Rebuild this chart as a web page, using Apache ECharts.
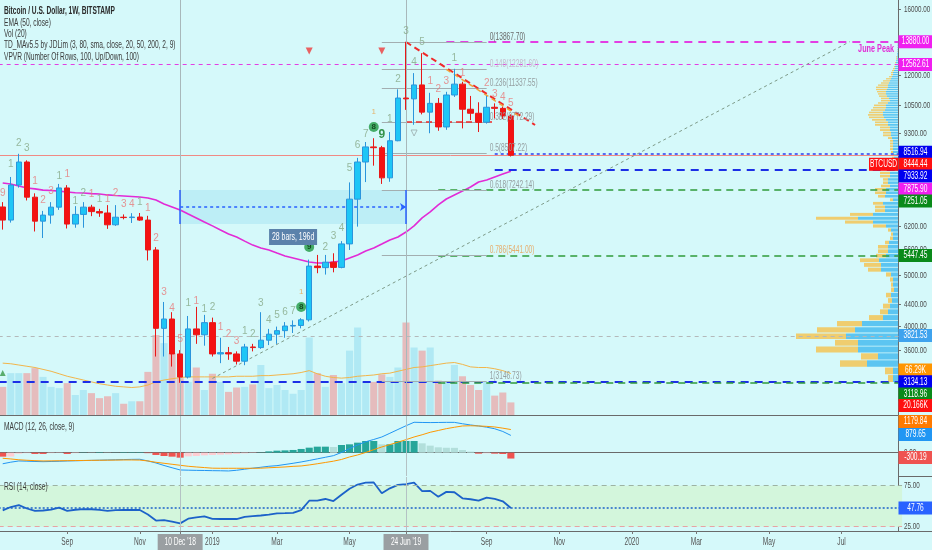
<!DOCTYPE html>
<html>
<head>
<meta charset="utf-8">
<script src="https://cdn.jsdelivr.net/npm/echarts@6/dist/echarts.min.js"></script>
<style>
html, body { margin: 0; padding: 0; background: #d5f9fa; }
#chart { width: 932px; height: 550px; }
</style>
</head>
<body>
<div id="chart"></div>
<script>
// weekly BTCUSD (Bitstamp), first bar = week of 9 Jul 2018
var candles = [ // [open, close, low, high]
  [6735, 6360, 6100, 6880], [6360, 7415, 6290, 7680], [7415, 8200, 7330, 8500], [8200, 7030, 6930, 8260],
  [7030, 6330, 6050, 7150], [6330, 6500, 5880, 6620], [6500, 6730, 6260, 6880], [6730, 7320, 6650, 7450],
  [7320, 6250, 6130, 7410], [6250, 6520, 6150, 6760], [6520, 6730, 6150, 6880], [6730, 6600, 6470, 6800],
  [6600, 6560, 6450, 6680], [6560, 6230, 6120, 6790], [6230, 6440, 6200, 6790], [6440, 6430, 6380, 6520],
  [6430, 6445, 6280, 6555], [6445, 6360, 6340, 6560], [6360, 5580, 5330, 6480], [5580, 3960, 3500, 5650],
  [3960, 4125, 3500, 4444], [4125, 3540, 3350, 4250], [3540, 3200, 3120, 3600], [3200, 3950, 3180, 4180],
  [3950, 3850, 3700, 4350], [3850, 4060, 3670, 4200], [4060, 3540, 3500, 4150], [3540, 3560, 3400, 3800],
  [3560, 3540, 3450, 3650], [3540, 3430, 3380, 3580], [3430, 3650, 3370, 3700], [3650, 3640, 3580, 3700],
  [3640, 3760, 3620, 4250], [3760, 3860, 3680, 3950], [3860, 3920, 3700, 3990], [3920, 4000, 3800, 4070],
  [4000, 4010, 3880, 4100], [4010, 4110, 3960, 4140], [4110, 5200, 4080, 5350], [5200, 5165, 5040, 5460],
  [5165, 5290, 5010, 5460], [5290, 5170, 5060, 5500], [5170, 5730, 5150, 5800], [5730, 6970, 5580, 7500],
  [6970, 8200, 6180, 8350], [8200, 8760, 7510, 8950], [8760, 8730, 8070, 9100], [8730, 7650, 7450, 8800],
  [7650, 9000, 7520, 9350], [9000, 10850, 8980, 11270], [10850, 10810, 10300, 13880], [10810, 11490, 9650, 12100],
  [11490, 10200, 10100, 13200], [10200, 10600, 9300, 11100], [10600, 9560, 9400, 10850], [9560, 10995, 9440, 11150],
  [10995, 11530, 10900, 12330], [11530, 10330, 9500, 11650], [10330, 10150, 9850, 10950], [10150, 9760, 9350, 10650],
  [9760, 10420, 9700, 10950], [10420, 10370, 9920, 10600], [10370, 10030, 9900, 10450], [10030, 8444.44, 8400, 10100]
];
var ema50 = [7480, 7450, 7380, 7320, 7290, 7250, 7240, 7220, 7190, 7170, 7160, 7140, 7130, 7100, 7080, 7065,
  7050, 7035, 7005, 6945, 6825, 6735, 6646, 6530, 6420, 6305, 6200, 6090, 5985, 5906, 5800, 5700,
  5628, 5580, 5505, 5435, 5387, 5340, 5293, 5270, 5270, 5293, 5316, 5387, 5460, 5555, 5628, 5727,
  5830, 5906, 6035, 6200, 6420, 6590, 6795, 6974, 7097, 7220, 7350, 7513, 7580, 7680, 7780, 7875.9];
var volumeK = [45, 67, 67, 67, 75, 61, 45, 43, 51, 32, 40, 35, 27, 30, 35, 18, 22, 22, 69, 128,
  115, 99, 59, 53, 76, 40, 66, 53, 37, 44, 45, 49, 80, 43, 48, 40, 34, 40, 124, 67,
  45, 64, 51, 103, 140, 53, 53, 65, 61, 76, 148, 108, 103, 108, 55, 53, 80, 62, 48, 40,
  53, 31, 36, 20.166];
var volumeMaK = [83, 82, 80, 78, 76, 73, 70, 66, 62, 59, 56, 53, 50, 48, 46, 45, 44, 45, 48, 53,
  56, 58, 60, 61, 61, 61, 61, 61, 61, 62, 62, 62, 63, 63, 64, 65, 66, 68, 71, 66,
  62, 60, 59, 60, 62, 63, 64, 66, 67, 70, 73, 76, 77, 79, 81, 83, 84, 81, 77, 76,
  76, 74, 71, 66.29];
var macdLine = [-566, -485, -423, -434, -449, -459, -449, -439, -423, -413, -403, -393, -383, -372, -362, -352,
  -342, -337, -423, -525, -653, -770, -882, -893, -903, -908, -918, -923, -933, -898, -842, -791,
  -745, -694, -663, -602, -541, -474, -398, -316, -235, -153, 10, 209, 393, 556, 673, 800,
  989, 1183, 1372, 1550, 1540, 1535, 1540, 1545, 1545, 1474, 1413, 1362, 1300, 1219, 1081, 879.65];
var signalLine = [-286, -321, -362, -388, -408, -423, -418, -413, -408, -403, -398, -393, -388, -383, -378, -372,
  -372, -378, -423, -490, -541, -592, -643, -694, -729, -760, -791, -796, -796, -796, -796, -796,
  -791, -770, -750, -729, -698, -678, -627, -566, -500, -434, -347, -219, -117, 10, 153, 291,
  413, 536, 663, 800, 913, 1040, 1132, 1224, 1295, 1362, 1372, 1362, 1341, 1311, 1250, 1179.84];
var macdHist = [-204, -200, -50, -25, -66, -66, -25, -15, -66, -25, 15, 10, 25, 10, 10, 25,
  25, 25, -25, -117, -170, -204, -255, -189, -170, -138, -117, -102, -87, -66, -36, -15,
  15, 66, 102, 117, 138, 189, 255, 306, 306, 290, 391, 425, 510, 595, 595, 425,
  425, 595, 595, 595, 476, 357, 272, 250, 245, 136, 51, -51, -34, -51, -68, -300.19];
var rsi14 = [44.9, 49.0, 51.4, 47.2, 44.2, 44.8, 45.8, 48.2, 44.3, 45.7, 46.5, 46.3, 45.6, 44.2, 45.3, 45.4,
  45.4, 45.4, 40.0, 32.5, 33.1, 31.3, 29.1, 34.8, 36.5, 37.7, 34.6, 34.4, 34.4, 34.4, 37.1, 38.0,
  38.7, 39.8, 41.3, 41.6, 42.0, 45.3, 56.7, 56.8, 58.8, 56.3, 64.0, 71.3, 76.4, 78.8, 79.0, 65.7,
  71.8, 76.0, 76.8, 78.7, 68.5, 68.7, 61.6, 67.5, 67.0, 59.6, 58.5, 56.8, 60.4, 59.0, 56.0, 47.76];

// volume profile, 100 rows from 3120 upward
var vpRowStart = 3120, vpRowStep = 107.6;
var vpUp = [5, 5, 31, 20, 40, 40, 52, 43, 36, 15, 10, 8, 6, 7, 4, 5, 5, 7, 17, 17,
  19, 12, 10, 10, 9, 5, 5, 7, 12, 25, 40, 25, 13, 13, 15, 5, 13, 12, 12, 8,
  10, 10, 8, 8, 6, 5, 5, 4, 4, 4, 5, 5, 5, 5, 5, 6, 7, 7, 8, 8,
  10, 10, 12, 14, 15, 15, 13, 12, 12, 10, 8, 9, 11, 12, 12, 11, 10, 10, 9, 8,
  7, 6, 5, 5, 4, 3, 3, 2, 2, 2, 1, 1, 1, 1, 0.5, 0.5, 0.5, 0.5, 0.5, 0.5];
var vpDown = [5, 8, 27, 17, 42, 23, 50, 38, 25, 14, 8, 7, 4, 5, 3, 2, 3, 5, 13, 17,
  19, 10, 10, 10, 4, 3, 2, 3, 13, 28, 42, 23, 10, 10, 10, 3, 7, 11, 11, 9,
  5, 5, 10, 10, 4, 3, 2, 2, 2, 1, 2, 3, 3, 3, 3, 4, 8, 8, 10, 10,
  13, 13, 14, 15, 15, 14, 14, 13, 12, 10, 9, 8, 8, 8, 9, 11, 12, 10, 8, 7,
  5, 3, 2, 2, 2, 2, 1, 1, 1, 0, 1, 1, 0, 0, 0.5, 0, 0, 0, 0, 0];

// TD sequential counts
var tdIdx = [0, 1, 2, 3, 4, 5, 6, 7, 8, 9, 10, 11, 12, 13, 14, 15, 16, 17, 18, 19, 20, 21, 22, 23, 24, 25, 26, 27, 28, 29,
  30, 31, 32, 33, 34, 35, 36, 37, 37, 38, 40, 41, 42, 43, 44, 45, 46, 46, 47, 48, 49, 50, 51, 52, 53, 54, 55, 56, 57, 60, 61, 62, 63];
var tdText = ['9', '1', '2', '3', '1', '2', '3', '1', '1', '1', '2', '1', '1', '1', '2', '3', '4', '1', '1', '2', '3', '4', '5', '1', '1', '1', '2', '1', '2', '3',
  '1', '2', '3', '4', '5', '6', '7', '8', '1', '9', '2', '3', '4', '5', '6', '7', '8', '1', '9', '1', '2', '3', '4', '5', '1', '2', '3', '1', '1', '2', '3', '4', '5'];
var tdKind = ['r', 'g', 'g', 'g', 'r', 'r', 'r', 'g', 'r', 'g', 'g', 'r', 'g', 'r', 'r', 'r', 'r', 'g', 'r', 'r', 'r', 'r', 'r', 'g', 'r', 'g', 'g', 'r', 'r', 'r',
  'g', 'g', 'g', 'g', 'g', 'g', 'g', 'c', 'o', 'c', 'g', 'g', 'g', 'g', 'g', 'g', 'c', 'o', 'b', 'g', 'g', 'g', 'g', 'g', 'r', 'r', 'r', 'g', 'r', 'r', 'r', 'r', 'r'];
var tdPrice = [7160, 8129, 8911, 8718, 7546, 6944, 7223, 7713, 7781, 6914, 7160, 7129, 6974, 6974, 7160, 6823, 6823, 6883, 6705, 5880,
  4642, 4328, 3779, 4424, 4463, 4309, 4348, 3983, 3863, 3746, 3914, 3863, 4424, 4107, 4198, 4253, 4272,
  4348, 4642, 5653, 5653, 5932, 6143, 7987, 8834, 9269, 9558, 10206, 9229, 9898, 11791, 14549, 12703, 13865,
  11689, 11287, 11689, 12926, 12106, 11587, 11043, 10898, 10617];

// fib retracement
var fibText = ['0(13867.70)', '0.148(12281.60)', '0.236(11337.55)', '0.382(9772.29)', '0.5(8507.22)', '0.618(7242.14)', '0.786(5441.00)', '1(3146.73)'];
var fibPrice = [13867.70, 12281.60, 11337.55, 9772.29, 8507.22, 7242.14, 5441.00, 3146.73];
var fibFrom = 47, fibTo = 60;

// horizontal levels
var levelPrice = [13880, 12562.61, 8516.94, 8444.44, 7933.92, 7251.05, 5447.45, 3821.53, 3134.13, 3118.96];
var levelFrom = [55, null, 61, null, 61, 54, 54, null, null, 54];
var levelStyle = ['magThick', 'magThin', 'blueDot', 'price', 'blueThick', 'green', 'green', 'grey', 'blueThick', 'green'];

// axis ticks
var priceTicks = [3600, 4000, 4400, 5000, 5600, 6200, 9300, 10500, 12000, 16000];
var rsiTicks = [25, 75];
var dateTickIdx = [8, 17, 22, 26, 34, 43, 50, 60, 69, 78, 86, 95, 104];
var dateTickText = ['Sep', 'Nov', "10 Dec '18", '2019', 'Mar', 'May', "24 Jun '19", 'Sep', 'Nov', '2020', 'Mar', 'May', 'Jul'];
var dateTickBoxed = [22, 50];

// right scale tags
var tagAxis = [0, 0, 0, 0, 0, 0, 0, 0, 0, 1, 0, 0, 1, 3, 3, 3, 4];
var tagValue = [13880, 12562.61, 8516.94, 8444.44, 7933.92, 7875.90, 7251.05, 5447.45, 3821.53, 66290, 3134.13, 3118.96, 20166, 1179.84, 879.65, -300.19, 47.76];
var tagText = ['13880.00', '12562.61', '8516.94', '8444.44', '7933.92', '7875.90', '7251.05', '5447.45', '3821.53', '66.29K', '3134.13', '3118.96', '20.166K', '1179.84', '879.65', '-300.19', '47.76'];
var tagColor = ['#f01ff0', '#f01ff0', '#0000f0', '#ff1010', '#0000f0', '#f01ff0', '#0a8a1a', '#0a8a1a', '#3fa3ee', '#ff9500', '#0000f0', '#0a8a1a', '#ff1010', '#ff7a00', '#2196f3', '#ef5350', '#2962ff'];
var tagShift = [0, 0, -1, 9, 6.5, 18, 11, 0, -1, -3.5, 0, 11, 3, -8, -1, -1, 0];

var FONT = '"Liberation Sans", Arial, sans-serif';
var SQUEEZE = 0.66; // chart font is a condensed face
var PMIN = 2710, PMAX = 16662;
var N = 112;
var CLEAR = 'rgba(0,0,0,0)';

var weeks = [];
var t0 = Date.UTC(2018, 6, 9);
for (var w = 0; w < N; w++) {
    weeks.push(new Date(t0 + w * 7 * 864e5).toISOString().slice(0, 10));
}

var chart = echarts.init(document.getElementById('chart'));

var UP = '#1ec6f6', DOWN = '#f41212';

var volData = volumeK.map(function (v, i) {
    var up = candles[i][1] >= candles[i][0];
    return { value: v * 1000, itemStyle: { color: up ? '#b0e9f4' : '#e5bcbd' } };
});

var histData = macdHist.map(function (v, i) {
    var prev = i > 0 ? macdHist[i - 1] : v;
    var c;
    if (v >= 0) c = v >= prev ? '#26a69a' : '#b2dfdb';
    else c = v <= prev ? '#ef5350' : '#ffcdd2';
    return { value: v, itemStyle: { color: c } };
});

var vpData = vpUp.map(function (u, k) {
    var lo = vpRowStart + k * vpRowStep;
    return [lo, lo + vpRowStep, u, vpDown[k]];
});

var styles = {
    magThick: { color: '#e33ee3', width: 2, type: [8, 6] },
    magThin: { color: '#e33ee3', width: 1, type: [4, 4] },
    blueDot: { color: '#2b3cf0', width: 1.5, type: [3, 3] },
    price: { color: '#f08a84', width: 1, type: 'solid' },
    blueThick: { color: '#1c2fe6', width: 2, type: [8, 6] },
    green: { color: '#2f9a3a', width: 1.5, type: [7, 5] },
    grey: { color: '#b4b9ba', width: 1, type: [4, 4] }
};

var drawLines = [];
levelPrice.forEach(function (p, i) {
    var ls = styles[levelStyle[i]];
    if (levelFrom[i] === null) drawLines.push({ yAxis: p, lineStyle: ls });
    else drawLines.push([{ coord: [levelFrom[i], p], lineStyle: ls }, { coord: [N - 1, p] }]);
});
fibPrice.forEach(function (p) {
    drawLines.push([{ coord: [fibFrom, p], lineStyle: { color: '#a3aeb0', width: 1, type: 'solid' } }, { coord: [fibTo, p] }]);
});
// trend lines and TD levels
drawLines.push([{ coord: [26, 3180], lineStyle: { color: '#7d9a88', width: 1, type: [3, 3] } }, { coord: [105, 13880] }]);
drawLines.push([{ coord: [50, 13865], lineStyle: { color: '#f02a2a', width: 2, type: [6, 4] } }, { coord: [66, 9642] }]);
drawLines.push([{ coord: [55, 12300], lineStyle: { color: '#f2a23a', width: 1.5, type: [5, 4] } }, { coord: [64, 10020] }]);
drawLines.push([{ coord: [50, 9788], lineStyle: { color: '#f02a2a', width: 1.5, type: [6, 4] } }, { coord: [61, 9788] }]);
// crosshair date markers
drawLines.push({ xAxis: 22, lineStyle: { color: '#a8b8ba', width: 1, type: 'solid' } });
drawLines.push({ xAxis: 50, lineStyle: { color: '#a8b8ba', width: 1, type: 'solid' } });
// date range tool
drawLines.push([{ coord: [22, 7254], lineStyle: { color: '#2962ff', width: 1.5, type: 'solid' } }, { coord: [22, 6250] }]);
drawLines.push([{ coord: [50, 7254], lineStyle: { color: '#2962ff', width: 1.5, type: 'solid' } }, { coord: [50, 6250] }]);
drawLines.push([{ coord: [22, 6734], symbol: 'none', lineStyle: { color: '#2962ff', width: 1.5, type: [3, 3] } },
    { coord: [50, 6734], symbol: 'arrow', symbolSize: 6 }]);

var tdColors = { r: '#e77b7b', g: '#86a886', o: '#e8a24a', b: '#0b7a1e' };
var tdPlain = [], tdCircle = [];
tdIdx.forEach(function (ix, i) {
    var k = tdKind[i];
    if (k === 'c') {
        tdCircle.push({ value: [ix, tdPrice[i]], name: tdText[i] });
    } else {
        tdPlain.push({
            value: [ix, tdPrice[i]], name: tdText[i],
            label: { color: tdColors[k], fontWeight: k === 'b' ? 'bold' : 'normal', fontSize: k === 'o' ? 8 : (k === 'b' ? 12 : 10) }
        });
    }
});

function catAxis(g, line) {
    return {
        type: 'category', gridIndex: g, data: weeks, boundaryGap: true,
        axisLine: { show: line, lineStyle: { color: '#6a6a6a', width: 1 } },
        axisTick: { show: false }, axisLabel: { show: false }, splitLine: { show: false }
    };
}

var dateAxis = catAxis(4, true);
dateAxis.axisTick = {
    show: true, alignWithLabel: true, length: 3, lineStyle: { color: '#777' },
    interval: function (i) { return dateTickIdx.indexOf(i) >= 0; }
};

function gridAt(left, right, top, height) {
    return { left: left, right: right, top: top, height: height, containLabel: false, outerBoundsMode: 'none' };
}

var option = {
    backgroundColor: '#d5f9fa',
    animation: false,
    grid: [
        gridAt(-1.33, 29.93, 0, 415),
        gridAt(-1.33, 29.93, 0, 415),
        gridAt(0, 34, 0, 415),
        gridAt(-1.33, 29.93, 416, 60),
        gridAt(-1.33, 29.93, 477, 54)
    ],
    xAxis: [
        catAxis(0, true),
        catAxis(1, false),
        { type: 'value', gridIndex: 2, inverse: true, min: 0, max: 898, show: false },
        catAxis(3, true),
        dateAxis
    ],
    yAxis: [
        {
            type: 'log', logBase: 10, gridIndex: 0, position: 'right', offset: -4.14, min: PMIN, max: PMAX,
            axisLine: { show: true, lineStyle: { color: '#6a6a6a' } },
            axisTick: { show: true, length: 3, customValues: priceTicks, lineStyle: { color: '#6a6a6a' } },
            axisLabel: { show: false, customValues: priceTicks },
            splitLine: { show: false }
        },
        { type: 'value', gridIndex: 1, min: 0, max: 664000, show: false, splitLine: { show: false } },
        { type: 'log', logBase: 10, gridIndex: 2, min: PMIN, max: PMAX, show: false, splitLine: { show: false } },
        {
            type: 'value', gridIndex: 3, position: 'right', offset: -4.14, min: -1190, max: 1870,
            axisLine: { show: true, lineStyle: { color: '#6a6a6a' } }, axisTick: { show: false },
            axisLabel: { show: false }, splitLine: { show: false }
        },
        {
            type: 'value', gridIndex: 4, position: 'right', offset: -4.14, min: 19.8, max: 85.6,
            axisLine: { show: true, lineStyle: { color: '#6a6a6a' } },
            axisTick: { show: true, length: 3, customValues: rsiTicks, lineStyle: { color: '#6a6a6a' } },
            axisLabel: { show: false, customValues: rsiTicks },
            splitLine: { show: false }
        }
    ],
    series: [
        {
            name: 'VPVR', type: 'custom', xAxisIndex: 2, yAxisIndex: 2, z: 1, silent: true,
            data: vpData, encode: { x: [2, 3], y: [0, 1] },
            renderItem: function (params, api) {
                var lo = api.value(0), hi = api.value(1), up = api.value(2), dn = api.value(3);
                var a = api.coord([0, hi]), b = api.coord([up, lo]), c = api.coord([up + dn, lo]);
                var h = Math.max(b[1] - a[1] - 0.8, 0.6);
                return {
                    type: 'group', children: [
                        { type: 'rect', shape: { x: b[0], y: a[1], width: a[0] - b[0], height: h }, style: { fill: '#5cc5f1' } },
                        { type: 'rect', shape: { x: c[0], y: a[1], width: b[0] - c[0], height: h }, style: { fill: '#efcd6f' } }
                    ]
                };
            }
        },
        {
            name: 'Vol', type: 'bar', xAxisIndex: 1, yAxisIndex: 1, z: 1, data: volData, barCategoryGap: '12%', silent: true
        },
        {
            name: 'Vol MA', type: 'line', xAxisIndex: 1, yAxisIndex: 1, z: 2, data: volumeMaK.map(function (v) { return v * 1000; }),
            symbol: 'none', lineStyle: { color: '#f2b54a', width: 1 }, silent: true
        },
        {
            name: 'drawings', type: 'line', xAxisIndex: 0, yAxisIndex: 0, z: 2, data: [], silent: true,
            markArea: {
                silent: true,
                itemStyle: { color: '#bdeef6' },
                data: [[{ coord: [22, 7254] }, { coord: [50, 6250] }]]
            },
            markLine: { silent: true, symbol: 'none', label: { show: false }, animation: false, data: drawLines }
        },
        {
            name: 'EMA 50', type: 'line', xAxisIndex: 0, yAxisIndex: 0, z: 4, data: ema50, symbol: 'none',
            lineStyle: { color: '#e22bd6', width: 1.6 }, silent: true
        },
        {
            name: 'BTCUSD', type: 'candlestick', xAxisIndex: 0, yAxisIndex: 0, z: 5, data: candles, barWidth: 6,
            itemStyle: { color: UP, color0: DOWN, borderColor: '#2a95dc', borderColor0: '#e81818', borderWidth: 1 }
        },
        {
            name: 'TD', type: 'scatter', xAxisIndex: 0, yAxisIndex: 0, z: 6, symbolSize: 1, silent: true,
            itemStyle: { color: CLEAR }, data: tdPlain,
            label: { show: true, position: 'inside', formatter: '{b}', fontFamily: FONT }
        },
        {
            name: 'TD9', type: 'scatter', xAxisIndex: 0, yAxisIndex: 0, z: 6, symbol: 'circle', symbolSize: 10, silent: true,
            itemStyle: { color: '#1f9a44' }, data: tdCircle,
            label: { show: true, position: 'inside', formatter: '{b}', color: '#06300e', fontSize: 8, fontWeight: 'bold' }
        },
        {
            name: 'marks', type: 'scatter', xAxisIndex: 0, yAxisIndex: 0, z: 6, silent: true,
            data: [
                { value: [38, 13329], symbol: 'triangle', symbolRotate: 180, symbolSize: 7, itemStyle: { color: '#ee3b3b' } },
                { value: [47, 13329], symbol: 'triangle', symbolRotate: 180, symbolSize: 7, itemStyle: { color: '#ee3b3b' } },
                { value: [51, 9310], symbol: 'triangle', symbolRotate: 180, symbolSize: 6, itemStyle: { color: CLEAR, borderColor: '#9aa', borderWidth: 1 } },
                { value: [0, 3257], symbol: 'triangle', symbolSize: 6, itemStyle: { color: '#3a9a4a' } }
            ]
        },
        {
            name: 'MACD hist', type: 'bar', xAxisIndex: 3, yAxisIndex: 3, data: histData, barCategoryGap: '12%', silent: true,
            markLine: {
                silent: true, symbol: 'none', label: { show: false },
                data: [{ xAxis: 22, lineStyle: { color: '#b4c2c4', width: 1, type: 'solid' } },
                    { xAxis: 50, lineStyle: { color: '#b4c2c4', width: 1, type: 'solid' } }]
            }
        },
        {
            name: 'MACD', type: 'line', xAxisIndex: 3, yAxisIndex: 3, data: macdLine, symbol: 'none',
            lineStyle: { color: '#2196f3', width: 1 }, silent: true
        },
        {
            name: 'Signal', type: 'line', xAxisIndex: 3, yAxisIndex: 3, data: signalLine, symbol: 'none',
            lineStyle: { color: '#ff9800', width: 1 }, silent: true
        },
        {
            name: 'RSI', type: 'line', xAxisIndex: 4, yAxisIndex: 4, data: rsi14, symbol: 'none', z: 3,
            lineStyle: { color: '#1c62c9', width: 1.8 }, silent: true,
            markArea: { silent: true, itemStyle: { color: '#d3f6dc' }, data: [[{ yAxis: 25 }, { yAxis: 75 }]] },
            markLine: {
                silent: true, symbol: 'none', label: { show: false },
                data: [
                    { yAxis: 75, lineStyle: { color: '#9db3a3', width: 1, type: [5, 4] } },
                    { yAxis: 25, lineStyle: { color: '#e7a3a3', width: 1, type: [5, 4] } },
                    { yAxis: 47.76, lineStyle: { color: '#1c62c9', width: 1.5, type: [2, 2] } },
                    { xAxis: 22, lineStyle: { color: '#b4c2c4', width: 1, type: 'solid' } },
                    { xAxis: 50, lineStyle: { color: '#b4c2c4', width: 1, type: 'solid' } }
                ]
            }
        }
    ]
};

chart.setOption(option);

// texts in the chart's condensed face, placed through the axes
var g = [];
function txt(x, y, s, fill, size, align, bold, z) {
    return {
        type: 'text', x: x, y: y, scaleX: SQUEEZE, z: z || 120, silent: true,
        style: { text: s, fill: fill, font: (bold ? 'bold ' : '') + size + 'px ' + FONT, align: align || 'left', verticalAlign: 'middle' }
    };
}
function box(x, y, w, h, fill, z) {
    return { type: 'rect', silent: true, z: z || 110, shape: { x: x, y: y, width: w, height: h }, style: { fill: fill } };
}

var legendLines = [
    ['Bitcoin / U.S. Dollar, 1W, BITSTAMP', 11, true],
    ['EMA (50, close)', 23, false],
    ['Vol (20)', 34, false],
    ['TD_MAv5.5 by JDLim (3, 80, sma, close, 20, 50, 200, 2, 9)', 45, false],
    ['VPVR (Number Of Rows, 100, Up/Down, 100)', 57, false],
    ['MACD (12, 26, close, 9)', 427, false],
    ['RSI (14, close)', 487, false]
];
legendLines.forEach(function (l) {
    g.push(txt(4, l[1], l[0], l[2] ? '#2b2b2b' : '#3a3a3a', 10, 'left', l[2]));
});

var axisX = 898;
priceTicks.forEach(function (v) {
    g.push(txt(axisX + 6, chart.convertToPixel({ yAxisIndex: 0 }, v), v.toFixed(2), '#4a4a4a', 9.5, 'left', false, 100));
});
rsiTicks.forEach(function (v) {
    g.push(txt(axisX + 6, chart.convertToPixel({ yAxisIndex: 4 }, v), v.toFixed(2), '#4a4a4a', 9.5, 'left', false, 100));
});
g.push(txt(axisX + 6, chart.convertToPixel({ yAxisIndex: 3 }, 0), '0.00', '#4a4a4a', 9.5, 'left', false, 100));

dateTickIdx.forEach(function (ix, k) {
    var x = chart.convertToPixel({ xAxisIndex: 4 }, weeks[ix]);
    if (dateTickBoxed.indexOf(ix) >= 0) {
        var w = dateTickText[k].length * 5.6 * SQUEEZE + 8;
        g.push(box(x - w / 2, 534, w, 16, '#9a9fa2', 115));
        g.push(txt(x, 542, dateTickText[k], '#ffffff', 10, 'center', false, 116));
    } else {
        g.push(txt(x, 542, dateTickText[k], '#555555', 10, 'center', false, 100));
    }
});

fibPrice.forEach(function (p, i) {
    var c = i === 0 ? '#6a6a6a' : (i === 6 ? '#e6ad6c' : (i === 1 ? '#c4bccc' : '#959ea0'));
    var pt = chart.convertToPixel({ gridIndex: 0 }, [weeks[fibTo], p]);
    g.push(txt(pt[0] + 3, pt[1] - 5, fibText[i], c, 10, 'left', false, 30));
});

var peak = chart.convertToPixel({ gridIndex: 0 }, [weeks[N - 1], 13880]);
g.push(txt(peak[0] - 4, peak[1] + 7, 'June Peak', '#e22bd6', 11, 'right', true, 40));

var span = chart.convertToPixel({ gridIndex: 0 }, [weeks[36], 5906]);
g.push(box(span[0] - 24, span[1] - 8, 48, 16, '#5b82ab', 40));
g.push(txt(span[0], span[1], '28 bars, 196d', '#ffffff', 10.5, 'center', false, 41));

tagValue.forEach(function (v, i) {
    var y = chart.convertToPixel({ yAxisIndex: tagAxis[i] }, v) + tagShift[i];
    g.push(box(axisX + 0.5, y - 6.5, 33.5, 13, tagColor[i]));
    g.push(txt(axisX + 17.5, y, tagText[i], '#ffffff', 10, 'center', false, 111));
    if (tagText[i] === '8444.44') {
        g.push(box(axisX - 29, y - 6.5, 29, 13, tagColor[i]));
        g.push(txt(axisX - 14.5, y, 'BTCUSD', '#ffffff', 10, 'center', false, 111));
    }
});

// pane separators continue under the price scale
[415.5, 476.5, 531.5].forEach(function (y) {
    g.push({ type: 'line', silent: true, z: 90, shape: { x1: axisX, y1: y, x2: 932, y2: y }, style: { stroke: '#6a6a6a', lineWidth: 1 } });
});

chart.setOption({ graphic: g });
</script>
</body>
</html>
